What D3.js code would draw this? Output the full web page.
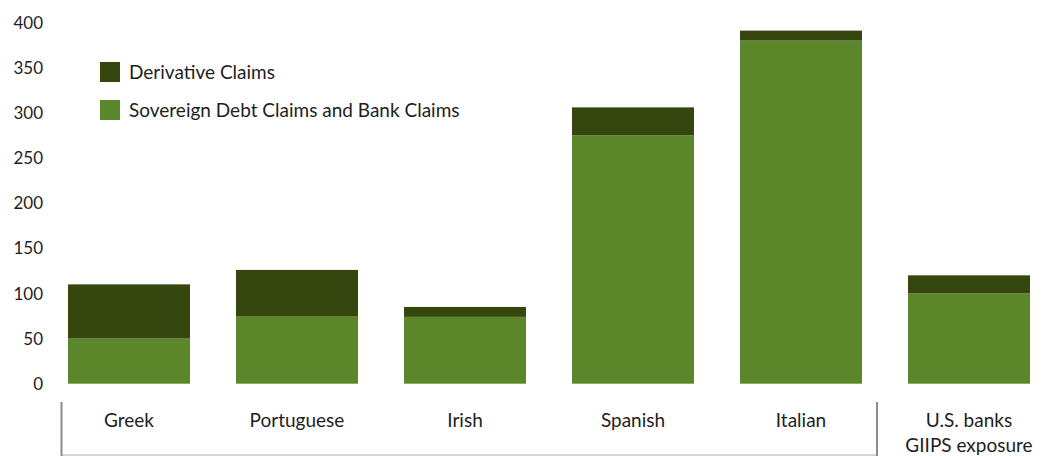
<!DOCTYPE html>
<html>
<head>
<meta charset="utf-8">
<script src="https://cdn.jsdelivr.net/npm/d3@7"></script>
<style>
  body { margin: 0; background: #fff; }
  text { font-family: Lato, "Open Sans", sans-serif; fill: #1e1e1e; }
</style>
</head>
<body>
<svg id="chart"></svg>
<script>
const categories = ["Greek", "Portuguese", "Irish", "Spanish", "Italian", "U.S. banks|GIIPS exposure"];
const sovereignBank = [50, 75, 74, 275, 380, 100];
const derivative = [60, 51, 11, 31, 11, 20];
const yTicks = [0, 50, 100, 150, 200, 250, 300, 350, 400];
const seriesNames = ["Derivative Claims", "Sovereign Debt Claims and Bank Claims"];

const width = 1050, height = 456;
const darkGreen = "#35460f", lightGreen = "#5c862a";

const svg = d3.select("#chart")
    .attr("width", width)
    .attr("height", height);

const x = d3.scaleBand()
    .domain(categories)
    .range([45, 1053])
    .paddingInner(0.274)
    .paddingOuter(0.137);

const y = d3.scaleLinear()
    .domain([0, 400])
    .range([383.7, 22.5]);

// y axis labels only
svg.append("g")
    .selectAll("text")
    .data(yTicks)
  .enter().append("text")
    .attr("x", 43)
    .attr("y", d => y(d))
    .attr("dy", "0.36em")
    .attr("text-anchor", "end")
    .style("font-size", "17px")
    .text(d => d);

const rows = categories.map((c, i) => ({ cat: c, sov: sovereignBank[i], der: derivative[i] }));
const stacked = d3.stack().keys(["sov", "der"])(rows);
const color = d3.scaleOrdinal().domain(["sov", "der"]).range([lightGreen, darkGreen]);

svg.append("g")
    .selectAll("g")
    .data(stacked)
  .enter().append("g")
    .attr("fill", d => color(d.key))
    .selectAll("rect")
    .data(d => d)
  .enter().append("rect")
    .attr("x", d => x(d.data.cat))
    .attr("width", x.bandwidth())
    .attr("y", d => y(d[1]))
    .attr("height", d => y(d[0]) - y(d[1]));

// category labels
const labels = svg.append("g")
    .selectAll("text")
    .data(categories)
  .enter().append("text")
    .attr("x", d => x(d) + x.bandwidth() / 2)
    .attr("y", 427)
    .attr("text-anchor", "middle")
    .style("font-size", "19px");

labels.each(function(d) {
    const parts = d.split("|");
    d3.select(this).selectAll("tspan")
        .data(parts)
      .enter().append("tspan")
        .attr("x", x(d) + x.bandwidth() / 2)
        .attr("dy", (p, i) => i === 0 ? 0 : 25)
        .text(p => p);
});

// bracket under the GIIPS countries
const bx0 = 61.5, bx1 = 877;
svg.append("line")
    .attr("x1", bx0).attr("x2", bx1)
    .attr("y1", 455).attr("y2", 455)
    .attr("stroke", "#c8c8c8").attr("stroke-width", 1.5);
svg.append("line")
    .attr("x1", bx0).attr("x2", bx0)
    .attr("y1", 402).attr("y2", 456)
    .attr("stroke", "#8c8c8c").attr("stroke-width", 2);
svg.append("line")
    .attr("x1", bx1).attr("x2", bx1)
    .attr("y1", 402).attr("y2", 456)
    .attr("stroke", "#8c8c8c").attr("stroke-width", 2);

// legend
const legend = svg.append("g")
    .selectAll("g")
    .data(seriesNames)
  .enter().append("g")
    .attr("transform", (d, i) => `translate(100,${62 + i * 38})`);

legend.append("rect")
    .attr("width", 20)
    .attr("height", 20)
    .attr("fill", (d, i) => i === 0 ? darkGreen : lightGreen);

legend.append("text")
    .attr("x", 29)
    .attr("y", 17)
    .style("font-size", "19px")
    .text(d => d);
</script>
</body>
</html>
